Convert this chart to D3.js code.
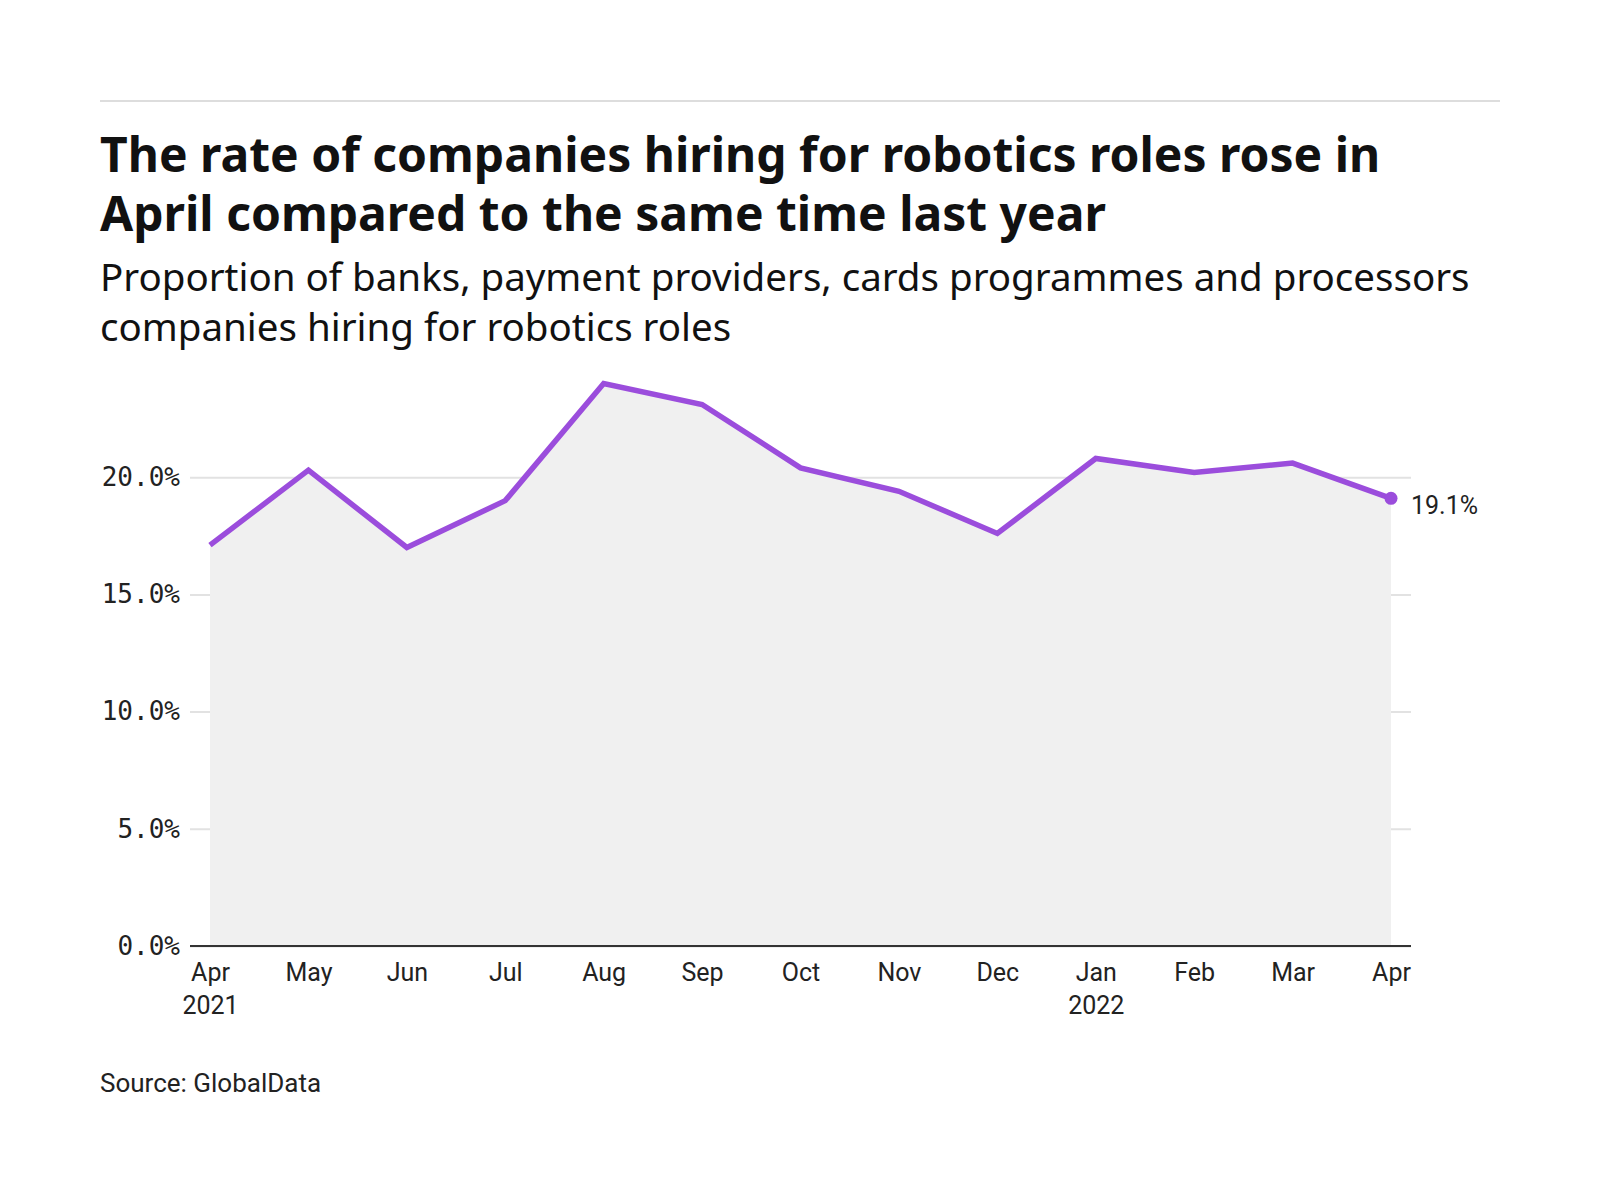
<!DOCTYPE html>
<html>
<head>
<meta charset="utf-8">
<script src="https://cdn.jsdelivr.net/npm/d3@7"></script>
<style>
  body { margin: 0; background: #fff; }
  .title { font-family: "Noto Sans", sans-serif; font-weight: 700; fill: #111; }
  .subtitle { font-family: "Noto Sans", sans-serif; fill: #111; }
  .ytick text { font-family: "DejaVu Sans Mono", monospace; fill: #222; }
  .xtick text { font-family: Roboto, sans-serif; fill: #222; }
  .source { font-family: Roboto, sans-serif; fill: #222; }
</style>
</head>
<body>
<div id="chart"></div>
<script>
let months = ["Apr", "May", "Jun", "Jul", "Aug", "Sep", "Oct", "Nov", "Dec", "Jan", "Feb", "Mar", "Apr"];
let years = ["2021", "", "", "", "", "", "", "", "", "2022", "", "", ""];
let rates = [17.1, 20.3, 17.0, 19.0, 24.0, 23.1, 20.4, 19.4, 17.6, 20.8, 20.2, 20.6, 19.1];
let yTicks = [0, 5, 10, 15, 20];

let width = 1600, height = 1200;
let margin = {top: 360, right: 209, bottom: 254, left: 210};

let svg = d3.select("#chart")
    .append("svg")
    .attr("width", width)
    .attr("height", height);

// header
svg.append("line")
    .attr("x1", 100).attr("x2", 1500)
    .attr("y1", 101).attr("y2", 101)
    .attr("stroke", "#dddddd")
    .attr("stroke-width", 2);

let titleLines = ["The rate of companies hiring for robotics roles rose in",
                  "April compared to the same time last year"];
svg.selectAll(".title")
    .data(titleLines)
    .enter()
    .append("text")
    .attr("class", "title")
    .attr("x", 100)
    .attr("y", (d, i) => 172 + i * 59)
    .attr("font-size", 48)
    .text(d => d);

let subLines = ["Proportion of banks, payment providers, cards programmes and processors",
                "companies hiring for robotics roles"];
svg.selectAll(".subtitle")
    .data(subLines)
    .enter()
    .append("text")
    .attr("class", "subtitle")
    .attr("x", 100)
    .attr("y", (d, i) => 291 + i * 50)
    .attr("font-size", 38.5)
    .text(d => d);

let plotW = width - margin.left - margin.right;
let plotH = height - margin.top - margin.bottom;

let g = svg.append("g")
    .attr("transform", "translate(" + margin.left + ", " + margin.top + ")");

let xScale = d3.scaleLinear().domain([0, rates.length - 1]).range([0, plotW]);
let yScale = d3.scaleLinear().domain([0, 25]).range([plotH, 0]);

// gridlines + y labels
let yAxis = d3.axisLeft(yScale)
    .tickValues(yTicks)
    .tickSize(-(plotW + 40))
    .tickPadding(12)
    .tickFormat(d => d3.format(".1f")(d) + "%");

g.append("g")
    .attr("class", "ytick")
    .attr("transform", "translate(-20, 0)")
    .call(yAxis)
    .call(a => a.select(".domain").remove())
    .call(a => a.selectAll("line").attr("stroke", "#e2e2e2").attr("stroke-width", 2))
    .call(a => a.selectAll("text").attr("font-size", 26).attr("x", -10));

// area
let area = d3.area()
    .x((d, i) => xScale(i))
    .y0(yScale(0))
    .y1(d => yScale(d));

g.append("path")
    .datum(rates)
    .attr("d", area)
    .attr("fill", "#f0f0f0");

// x axis
let xAxis = d3.axisBottom(xScale)
    .tickValues(d3.range(rates.length))
    .tickSize(0)
    .tickPadding(17)
    .tickFormat(i => months[i]);

let xg = g.append("g")
    .attr("class", "xtick")
    .attr("transform", "translate(0," + plotH + ")")
    .call(xAxis);

xg.select(".domain").remove();
xg.append("line")
    .attr("x1", -20).attr("x2", plotW + 20)
    .attr("stroke", "#333")
    .attr("stroke-width", 2);

xg.selectAll(".tick text")
    .attr("font-size", 25)
    .each(function (i) {
        if (years[i]) {
            d3.select(this).append("tspan")
                .attr("x", 0)
                .attr("dy", "1.33em")
                .text(years[i]);
        }
    });

// line
let line = d3.line()
    .x((d, i) => xScale(i))
    .y(d => yScale(d));

g.append("path")
    .datum(rates)
    .attr("d", line)
    .attr("fill", "none")
    .attr("stroke", "#9b4ddc")
    .attr("stroke-width", 5.5)
    .attr("stroke-linejoin", "miter");

let last = rates.length - 1;
g.append("circle")
    .attr("cx", xScale(last))
    .attr("cy", yScale(rates[last]))
    .attr("r", 6.5)
    .attr("fill", "#9b4ddc");

g.append("text")
    .attr("class", "source")
    .attr("x", xScale(last) + 20)
    .attr("y", yScale(rates[last]) + 16)
    .attr("font-size", 25)
    .text(d3.format(".1f")(rates[last]) + "%");

svg.append("text")
    .attr("class", "source")
    .attr("x", 100)
    .attr("y", 1092)
    .attr("font-size", 26)
    .text("Source: GlobalData");
</script>
</body>
</html>
